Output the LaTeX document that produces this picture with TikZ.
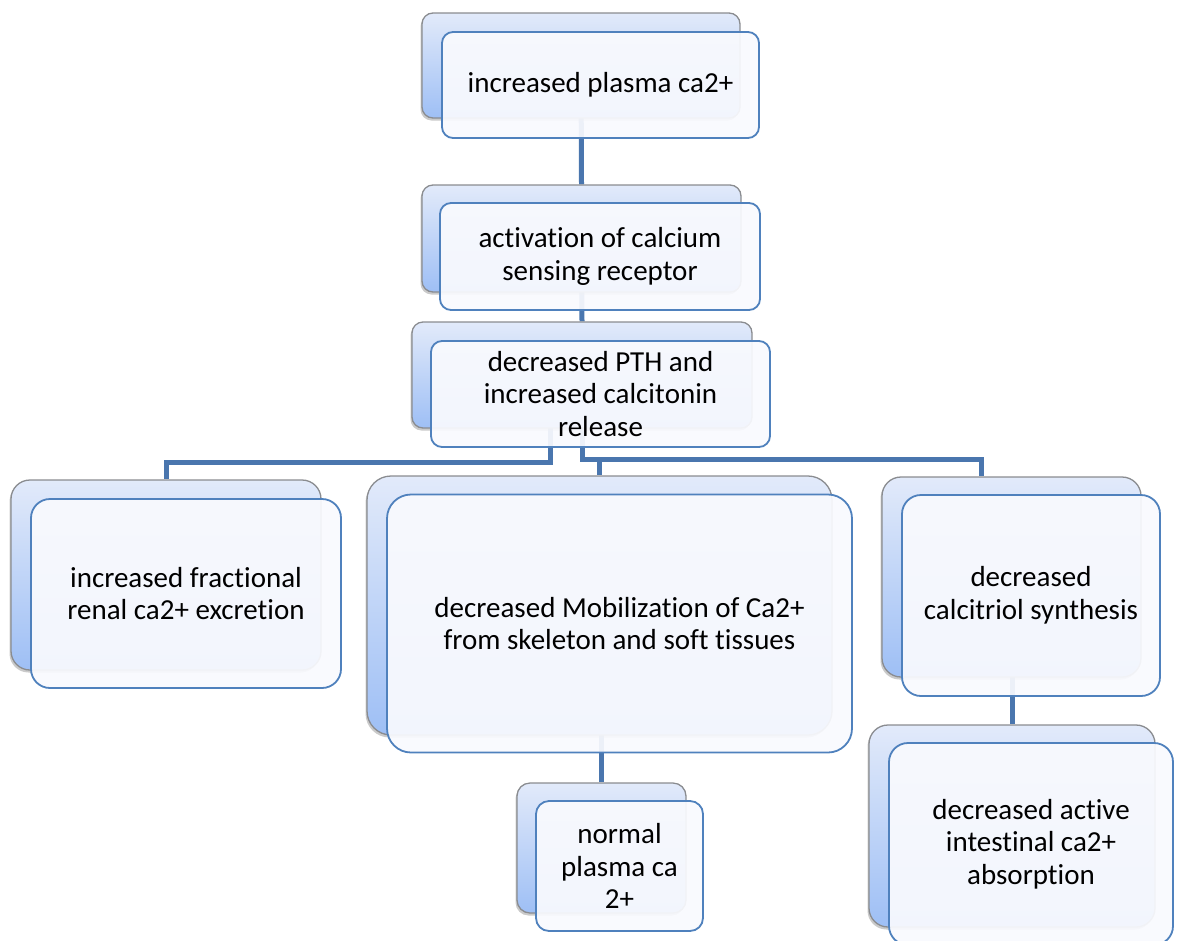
\documentclass[tikz,border=0pt]{standalone}
\usepackage{fontspec}
\setmainfont{Carlito}[RawFeature={-liga;-clig;-dlig;-calt;-hlig}]
\usetikzlibrary{backgrounds,shadows}
\definecolor{connblue}{HTML}{4A76AE}
\definecolor{frontblue}{HTML}{4F81BD}
\definecolor{backtop}{HTML}{E2EAFA}
\definecolor{backbot}{HTML}{9EBFF5}
\definecolor{backline}{HTML}{8A8C90}
\definecolor{frontfill}{HTML}{F9FAFE}
\newcommand{\boxfont}{\fontsize{29}{32.5}\selectfont}
\newcommand{\tsep}{\kern0pt }
\tikzset{
  backbox/.style={draw=backline, line width=1.3pt, rounded corners=#1,
    top color=backtop, bottom color=backbot, inner sep=0pt,
    drop shadow={shadow xshift=-1.5pt, shadow yshift=-2.5pt, opacity=0.35, fill=black!60}},
  frontbox/.style={draw=frontblue, line width=1.8pt, rounded corners=#1,
    fill=frontfill, fill opacity=0.93, text opacity=1, inner sep=0pt,
    align=center, font=\boxfont, text=black},
  conn/.style={draw=connblue, line width=5pt},
}
\begin{document}
\begin{tikzpicture}[x=1pt,y=-1pt]
\useasboundingbox (0,0) rectangle (1177,940);

% level 1
\node[backbox=11pt, minimum width=318pt, minimum height=105pt] (b1) at (581,65.5) {};
\node[frontbox=11pt, minimum width=317pt, minimum height=106pt] (f1) at (600.5,85) {increased plasma ca2+};

% level 2
\node[backbox=11pt, minimum width=319pt, minimum height=107pt] (b2) at (581.5,238.5) {};
\node[frontbox=11pt, minimum width=320pt, minimum height=107pt] (f2) at (600,256.5) {act\tsep ivat\tsep ion of calcium\\sensing receptor};

% level 3
\node[backbox=11pt, minimum width=340pt, minimum height=106pt] (b3) at (582,375) {};
\node[frontbox=11pt, minimum width=339pt, minimum height=106pt] (f3) at (600.5,394) {decreased PTH and\\increased calcit\tsep onin\\release};

% level 4 left
\node[backbox=19pt, minimum width=310pt, minimum height=190pt] (b4) at (166,575) {};
\node[frontbox=19pt, minimum width=310pt, minimum height=189pt] (f4) at (186,593.5) {increased fract\tsep ional\\renal ca2+ excret\tsep ion};

% level 4 middle
\node[backbox=24pt, minimum width=465pt, minimum height=259pt] (b5) at (599.5,605.5) {};
\node[frontbox=24pt, minimum width=465pt, minimum height=258pt] (f5) at (619.5,623.5) {decreased Mobilizat\tsep ion of Ca2+\\from skeleton and soft t\tsep issues};

% level 4 right
\node[backbox=19pt, minimum width=259pt, minimum height=200pt] (b6) at (1011.5,577) {};
\node[frontbox=19pt, minimum width=258pt, minimum height=201pt] (f6) at (1031,595.5) {decreased\\calcit\tsep riol synthesis};

% level 5 middle
\node[backbox=13pt, minimum width=169pt, minimum height=130pt] (b7) at (601.5,848) {};
\node[frontbox=13pt, minimum width=167pt, minimum height=130pt] (f7) at (619.5,866) {normal\\plasma ca\\2+};

% level 5 right
\node[backbox=19pt, minimum width=286pt, minimum height=202pt] (b8) at (1012,826) {};
\node[frontbox=19pt, minimum width=284pt, minimum height=202pt] (f8) at (1031,844) {decreased act\tsep ive\\intest\tsep inal ca2+\\absorpt\tsep ion};

\begin{scope}[on background layer]
  \draw[conn] (b1.center) -- (b2.north);
  \draw[conn] (b2.center) -- (b3.north);
  \draw[conn] ([xshift=-32pt]b3.center) |- ([yshift=17pt]b4.north) -- (b4.north);
  \draw[conn] (b3.center) |- ([xshift=-30pt,yshift=17pt]b6.north) -- ([xshift=-30pt]b6.north);
  \coordinate (tick) at ([yshift=17pt]b5.north);
  \draw[conn] (tick) -- (b5.north);
  \draw[conn] (b5.center -| b7.north) -- (b7.north);
  \draw[conn] (b6.center -| b8.north) -- (b8.north);
\end{scope}
\end{tikzpicture}
\end{document}
